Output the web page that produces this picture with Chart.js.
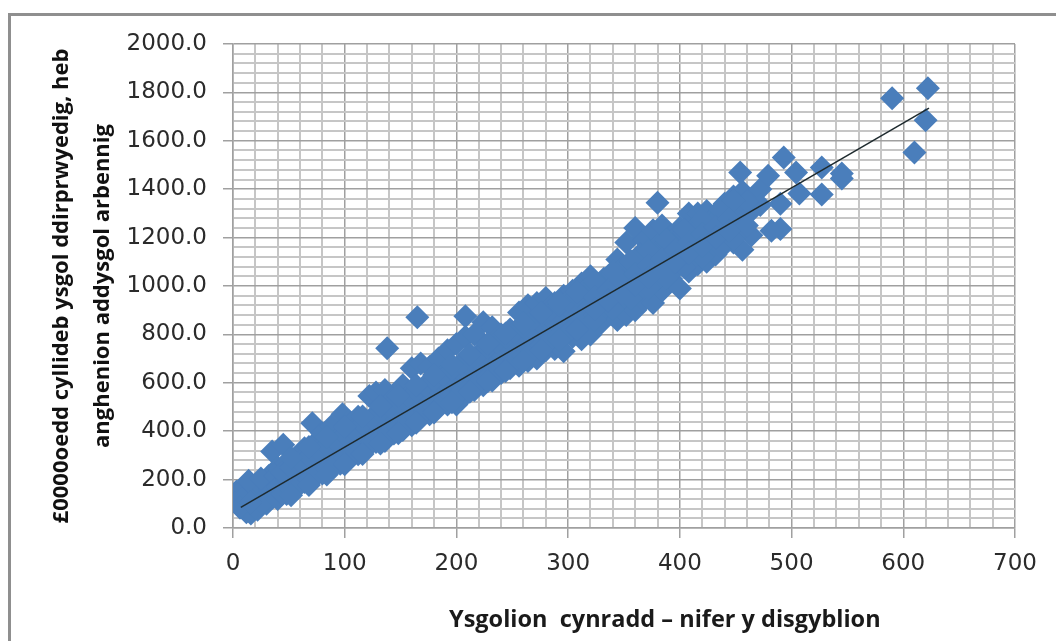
<!DOCTYPE html>
<html>
<head>
<meta charset="utf-8">
<script src="https://cdn.jsdelivr.net/npm/chart.js@4"></script>
<style>
    html, body { margin: 0; padding: 0; background: #fff; width: 1056px; height: 641px; overflow: hidden; }
    #frame { position: absolute; left: 8px; top: 13px; width: 1100px; height: 700px; border: 3px solid #8f8f8f; box-sizing: border-box; }
    #chart { position: absolute; left: 0; top: 0; }
    #x-title { position: absolute; left: 449px; top: 602px; font: bold 23.5px "Open Sans", sans-serif; color: #1a1a1a; white-space: pre; }
</style>
</head>
<body>
<div id="frame"></div>
<canvas id="chart" width="1056" height="641"></canvas>
<div id="x-title">Ysgolion  cynradd – nifer y disgyblion</div>
<script>
// values, one school per position
const pupils = [
    3, 5, 7, 10, 12, 12, 16, 18, 20, 22, 25, 27, 30, 32, 33, 35, 35, 45, 71,
    8, 14, 25, 26, 38, 6, 15,
    40, 40, 40, 48, 48, 48, 56, 56, 56, 64, 64, 64, 72, 72, 72, 80, 80, 80,
    88, 88, 88, 98, 96, 96, 104, 104, 104, 112, 112, 112, 122, 120, 120,
    128, 128, 128, 136, 136, 136, 144, 144, 144, 152, 152, 152, 160, 160, 160,
    168, 168, 168, 176, 176, 176, 184, 184, 184, 192, 192, 192, 200, 200, 200,
    208, 208, 208, 216, 216, 216, 224, 224, 224, 232, 232, 232, 240, 240, 240,
    248, 248, 248, 256, 256, 256, 264, 264, 264, 272, 272, 272, 280, 280, 280,
    288, 288, 288, 296, 296, 296, 304, 304, 304, 312, 312, 312, 320, 320, 320,
    328, 328, 328, 336, 336, 336, 344, 344, 344, 352, 352, 352, 360, 360, 360,
    368, 368, 368, 376, 376, 376, 384, 384, 384, 392, 392, 392, 400, 400, 400,
    408, 408, 408, 416, 416, 416, 424, 424, 424, 432, 432, 432, 440, 440, 440,
    448, 448, 448, 456, 456, 456, 464, 464, 464, 472, 472,
    622, 590, 620, 610, 493, 454, 479, 504, 527, 545, 545, 527, 507, 490, 490, 482,
    165, 138, 380, 208,
    44, 44, 52, 52, 60, 60, 68, 68, 76, 76, 84, 84, 92, 92, 100, 100,
    108, 108, 116, 116, 124, 124, 132, 132, 140, 140, 148, 148, 156, 156, 164, 164,
    172, 172, 180, 180, 188, 188, 196, 196, 204, 204, 212, 212, 220, 220, 228, 228,
    236, 236, 244, 244, 252, 252, 260, 260, 268, 268, 276, 276, 284, 284, 292, 292,
    300, 300, 308, 308, 316, 316, 324, 324, 332, 332, 340, 340, 348, 348, 356, 356,
    364, 364, 372, 372, 380, 380, 388, 388, 396, 396, 404, 404, 412, 412, 420, 420,
    428, 428, 436, 436, 444, 444, 452, 452, 460, 460,
    52, 52, 68, 68, 84, 84, 100, 100, 116, 116, 132, 132, 148, 148, 164, 164,
    180, 180, 196, 196, 212, 212, 228, 228, 244, 244, 260, 260, 276, 276, 292, 292,
    308, 308, 324, 324, 340, 340, 356, 356, 372, 372, 388, 388, 404, 404, 420, 420,
    436, 436, 448, 448,
    324, 324, 336, 336, 348, 348, 360, 360, 372, 372, 384, 384,
    396, 396, 408, 408, 420, 420, 432, 432, 444, 444
];
const budget = [
    150, 115, 85, 165, 130, 65, 60, 100, 150, 75, 175, 120, 100, 215, 160, 125, 316, 344, 433,
    120, 195, 205, 100, 215, 85, 105,
    250, 170, 120, 270, 200, 140, 290, 225, 165, 330, 250, 190, 345, 265, 205, 390, 290, 225,
    420, 310, 245, 470, 335, 265, 440, 350, 285, 460, 375, 305, 545, 400, 335,
    560, 420, 355, 570, 440, 360, 540, 460, 390, 590, 480, 405, 660, 500, 425,
    680, 525, 455, 665, 545, 470, 700, 570, 500, 735, 590, 510, 760, 610, 510,
    790, 630, 550, 800, 650, 570, 850, 670, 590, 830, 695, 610, 800, 715, 640,
    820, 740, 660, 890, 760, 670, 920, 780, 690, 930, 800, 700, 950, 825, 735,
    930, 845, 740, 960, 865, 730, 980, 890, 790, 1010, 905, 780, 1040, 930, 800,
    1010, 950, 840, 1040, 975, 880, 1110, 990, 860, 1180, 1015, 880, 1240, 1035, 900,
    1190, 1060, 940, 1230, 1075, 930, 1250, 1100, 980, 1210, 1120, 1030, 1240, 1140, 990,
    1300, 1165, 1060, 1300, 1185, 1090, 1310, 1205, 1100, 1290, 1225, 1130, 1340, 1250, 1170,
    1370, 1270, 1180, 1390, 1290, 1150, 1360, 1310, 1210, 1400, 1335,
    1817, 1776, 1685, 1552, 1531, 1469, 1456, 1469, 1490, 1465, 1444, 1378, 1382, 1340, 1236, 1228,
    871, 743, 1344, 875,
    230, 140, 250, 160, 275, 180, 295, 200, 320, 225, 340, 245, 360, 265, 385, 290,
    405, 310, 430, 330, 455, 350, 480, 370, 500, 395, 525, 415, 545, 435, 565, 460,
    590, 480, 610, 500, 635, 520, 655, 545, 680, 565, 700, 585, 720, 605, 745, 625,
    770, 645, 790, 670, 810, 690, 830, 710, 860, 730, 880, 755, 900, 775, 920, 795,
    940, 810, 960, 840, 985, 860, 1005, 880, 1030, 905, 1050, 925, 1070, 945, 1100, 965,
    1130, 985, 1150, 1010, 1170, 1030, 1180, 1050, 1200, 1070, 1220, 1100, 1240, 1115, 1250, 1140,
    1270, 1160, 1290, 1180, 1310, 1210, 1340, 1220, 1350, 1250,
    290, 135, 335, 178, 376, 221, 418, 263, 461, 306, 504, 349, 547, 392, 590, 435,
    632, 477, 675, 520, 718, 563, 761, 606, 804, 649, 846, 691, 889, 734, 932, 777,
    975, 820, 1018, 863, 1060, 905, 1103, 948, 1146, 991, 1189, 1034, 1232, 1077, 1275, 1120,
    1317, 1162, 1350, 1195,
    955, 905, 985, 940, 1020, 970, 1050, 1005, 1085, 1035, 1115, 1070,
    1150, 1100, 1180, 1135, 1215, 1165, 1245, 1200, 1280, 1230
];
const trendPupils = [7, 623];
const trendBudget = [85, 1735];

const yTitle = ['£0000oedd cyllideb ysgol ddirprwyedig, heb', 'anghenion addysgol arbennig'];

const tickFont = { family: 'DejaVu Sans', size: 23 };
const inkCol = '#2b2b2b';
const majorCol = '#a0a0a0';
const minorCol = '#c6c6c6';

function gridFor(major) {
    return {
        drawTicks: true,
        tickLength: 10,
        lineWidth: ctx => (ctx.tick && ctx.tick.value % major === 0 ? 1.5 : 2),
        color: ctx => (ctx.tick && ctx.tick.value % major === 0 ? majorCol : minorCol),
        tickColor: ctx => (ctx.tick && ctx.tick.value % major === 0 ? majorCol : 'rgba(0,0,0,0)')
    };
}

new Chart(document.getElementById('chart'), {
    type: 'scatter',
    data: {
        datasets: [
            {
                label: 'Trend',
                type: 'line',
                data: trendPupils.map((x, i) => ({ x, y: trendBudget[i] })),
                borderColor: '#1e2a2e',
                borderWidth: 1.5,
                pointRadius: 0,
                order: 1
            },
            {
                label: 'Ysgolion',
                data: pupils.map((x, i) => ({ x, y: budget[i] })),
                pointStyle: 'rectRot',
                pointRadius: 12,
                backgroundColor: '#4a7ebb',
                borderWidth: 0,
                order: 2
            }
        ]
    },
    options: {
        responsive: false,
        animation: false,
        layout: { padding: { left: 41, right: 41, top: 44, bottom: 0 } },
        plugins: { legend: { display: false }, tooltip: { enabled: false } },
        scales: {
            x: {
                type: 'linear',
                min: 0,
                max: 700,
                afterFit: s => { s.height = 113; },
                afterBuildTicks: s => {
                    s.ticks = [];
                    for (let v = 0; v <= 700; v += 20) s.ticks.push({ value: v });
                },
                border: { color: majorCol, width: 1.5 },
                grid: gridFor(100),
                ticks: {
                    autoSkip: false,
                    maxRotation: 0,
                    padding: 12,
                    color: inkCol,
                    font: tickFont,
                    callback: v => (v % 100 === 0 ? String(v) : '')
                }
            },
            y: {
                type: 'linear',
                min: 0,
                max: 2000,
                afterFit: s => { s.width = 192; },
                afterBuildTicks: s => {
                    s.ticks = [];
                    for (let v = 0; v <= 2000; v += 40) s.ticks.push({ value: v });
                },
                border: { color: majorCol, width: 1.5 },
                grid: gridFor(200),
                title: {
                    display: true,
                    text: yTitle,
                    color: '#111',
                    font: { family: 'Open Sans', size: 22, weight: 'bold', lineHeight: 1.87 },
                    padding: 0
                },
                ticks: {
                    autoSkip: false,
                    padding: 16,
                    color: inkCol,
                    font: tickFont,
                    callback: v => (v % 200 === 0 ? v.toFixed(1) : '')
                }
            }
        }
    }
});
</script>
</body>
</html>
